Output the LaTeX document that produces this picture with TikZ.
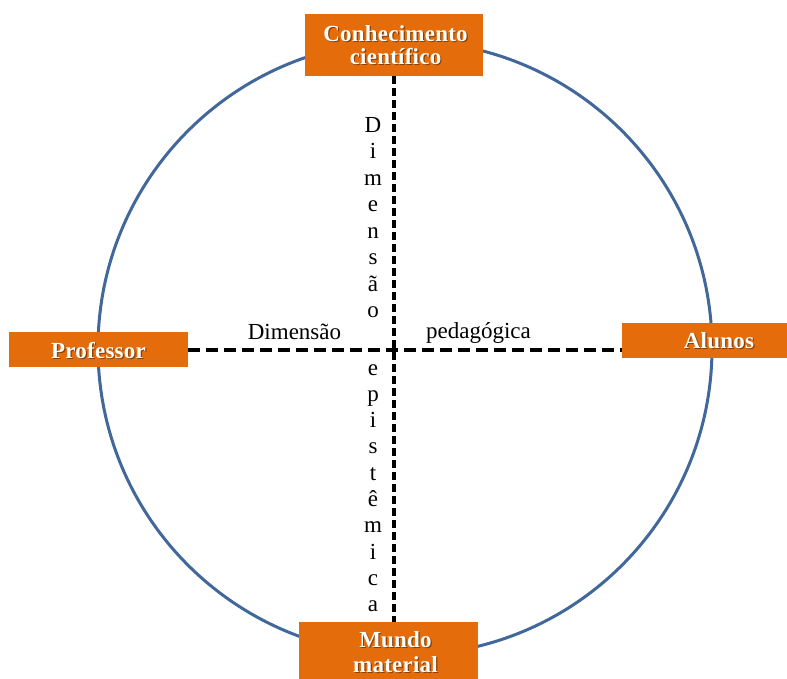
\documentclass[tikz,border=0pt]{standalone}
\usepackage{fontspec}
\setmainfont{Liberation Serif}
\definecolor{boxorange}{HTML}{E46C0A}
\definecolor{circblue}{HTML}{41679B}
\begin{document}
\begin{tikzpicture}[x=1pt,y=-1pt,
  box/.style={fill=boxorange, draw=none, inner sep=0pt},
  lbl/.style={font=\fontsize{23}{24}\selectfont\bfseries\addfontfeature{LetterSpace=1}, text=white, anchor=base, inner sep=0pt},
  shd/.style={font=\fontsize{23}{24}\selectfont\bfseries\addfontfeature{LetterSpace=1}, text=black, opacity=0.4, anchor=base, inner sep=0pt},
  dimtxt/.style={font=\fontsize{23}{24}\selectfont, text=black, anchor=base, inner sep=0pt},
  hdash/.style={line width=4pt, dash pattern=on 12pt off 6pt},
  vdash/.style={line width=4pt, dash pattern=on 8pt off 4pt},
]
\useasboundingbox (0,0) rectangle (787,678);
% circle
\node[circle, draw=circblue, line width=3pt, minimum size=614pt, inner sep=0pt] (circ) at (405,348) {};
% boxes
\node[box, minimum width=178pt, minimum height=62pt] (top) at (394,45) {};
\node[box, minimum width=179pt, minimum height=35pt] (prof) at (98.5,349.5) {};
\node[box, minimum width=194pt, minimum height=35pt] (alun) at (719,340.5) {};
\node[box, minimum width=179pt, minimum height=62pt] (mund) at (388.5,653) {};
% dashed axes
\draw[hdash] (prof.east) -- (alun.west |- prof.east);
\draw[vdash] (top.south) -- (top.south |- mund.north);
% box labels with shadows
\node[shd] (t1s) at (396.7,42.2) {Conhecimento};
\node[lbl] (t1) at (395.5,41) {Conhecimento};
\node[shd] (t2s) at (396.7,65.2) {científico};
\node[lbl] (t2) at (395.5,64) {científico};
\node[shd] (ps) at (99.7,359.2) {Professor};
\node[lbl] (p) at (98.5,358) {Professor};
\node[shd] (as) at (720.2,349.2) {Alunos};
\node[lbl] (a) at (719,348) {Alunos};
\node[shd] (m1s) at (396.7,648.2) {Mundo};
\node[lbl] (m1) at (395.5,647) {Mundo};
\node[shd] (m2s) at (396.7,673.2) {material};
\node[lbl] (m2) at (395.5,672) {material};
% dimension labels
\node[dimtxt] (dh) at (294.5,339) {Dimensão};
\node[dimtxt] (ph) at (478.5,338) {pedagógica};
\foreach \ch [count=\i from 0] in {D,i,m,e,n,s,ã,o}
  \node[dimtxt] (d\i) at (373,{132+26.5*\i}) {\ch};
\foreach \ch [count=\i from 0] in {e,p,i,s,t,ê,m,i,c,a}
  \node[dimtxt] (e\i) at (373,{375+26.33*\i}) {\ch};
\end{tikzpicture}
\end{document}
